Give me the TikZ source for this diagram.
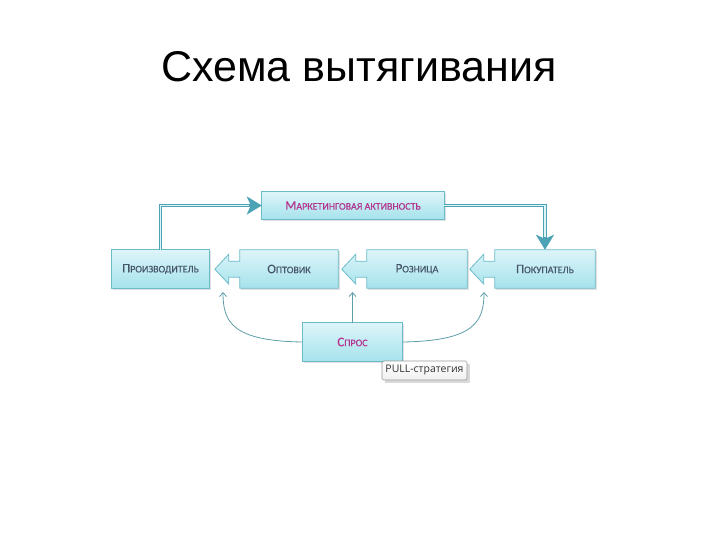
\documentclass[tikz,border=0pt]{standalone}
\usepackage{fontspec}
\setmainfont{Liberation Sans}
\newfontfamily\boxfont[FakeBold=0.45]{Carlito}
\newfontfamily\tipfont{Open Sans}
\usetikzlibrary{arrows.meta,backgrounds,calc}
\definecolor{bordc}{HTML}{6BBCCA}
\definecolor{topc}{HTML}{DDF5F9}
\definecolor{botc}{HTML}{A6E2EC}
\definecolor{txtc}{HTML}{46566A}
\definecolor{magc}{HTML}{B3338E}
\definecolor{arrc}{HTML}{4BA3B5}
\definecolor{thinc}{HTML}{5E9EA8}
\newcommand\smc[2]{{\fontsize{13}{14}\selectfont #1}{\fontsize{10}{12}\selectfont #2}}
\tikzset{
  boxshape/.style={draw=bordc, line width=0.8pt, top color=topc, bottom color=botc},
  boxshadow/.style={fill=black, opacity=0.12},
  boxtext/.style={font=\boxfont, text=txtc, inner sep=0pt},
  dbl/.style={draw=arrc, line width=3.6pt, -{Stealth[length=15pt,width=18pt,inset=4pt]}},
  dblin/.style={draw=topc, line width=1.4pt},
  thin/.style={draw=thinc, line width=0.8pt, -{Straight Barb[length=4pt,width=7pt]}},
}
% body rectangle + left-pointing arrow head, drawn behind the node
\newcommand\leftblock[1]{%
  \begin{scope}[on background layer]
    \path[boxshadow] ([shift={(1.5,1.5)}]#1.north west) rectangle ([shift={(1.5,1.5)}]#1.south east);
    \path[boxshape] (#1.north west) -- (#1.north east) -- (#1.south east) -- (#1.south west)
      -- ++(0,-11) -- ++(-11,0) -- ++(0,7) -- ++(-14,-15) -- ++(14,-15) -- ++(0,7) -- ++(11,0) -- cycle;
  \end{scope}}
\newcommand\plainblock[1]{%
  \begin{scope}[on background layer]
    \path[boxshadow] ([shift={(1.5,1.5)}]#1.north west) rectangle ([shift={(1.5,1.5)}]#1.south east);
    \path[boxshape] (#1.north west) rectangle (#1.south east);
  \end{scope}}
\begin{document}
\begin{tikzpicture}[x=1pt,y=-1pt]
\useasboundingbox (0,0) rectangle (720,540);

\node[font=\fontsize{43}{50}\selectfont, anchor=base] (title) at (359,82) {Схема вытягивания};

\node[boxtext, minimum width=97pt, minimum height=38pt] (prod) at (160.5,269) {\smc{П}{РОИЗВОДИТЕЛЬ}};
\node[boxtext, minimum width=98pt, minimum height=38pt] (opt) at (289,269) {\smc{О}{ПТОВИК}};
\node[boxtext, minimum width=100pt, minimum height=38pt] (roz) at (417,269) {\smc{Р}{ОЗНИЦА}};
\node[boxtext, minimum width=100pt, minimum height=38pt] (pok) at (545,269) {\smc{П}{ОКУПАТЕЛЬ}};
\node[boxtext, text=magc, minimum width=182pt, minimum height=27pt] (mark) at (353,205.5) {\smc{М}{АРКЕТИНГОВАЯ АКТИВНОСТЬ}};
\node[boxtext, text=magc, minimum width=99pt, minimum height=38pt] (spros) at (352.5,342) {\smc{С}{ПРОС}};

\plainblock{prod}
\leftblock{opt}
\leftblock{roz}
\leftblock{pok}
\plainblock{mark}
\plainblock{spros}

% marketing loop
\draw[dbl] (prod.north) |- (mark.west);
\draw[dblin, shorten >=13pt] (prod.north) |- (mark.west);
\draw[dbl] (mark.east) -| (pok.north);
\draw[dblin, shorten >=13pt] (mark.east) -| (pok.north);

% demand arrows
\coordinate (d1) at (223,292);
\coordinate (d2) at (352.5,292);
\coordinate (d3) at (484,292);
\draw[thin] (spros.west) .. controls (232,341) and (223,322) .. (d1);
\draw[thin] (spros.north) -- (d2);
\draw[thin] (spros.east) .. controls (474,341) and (484,322) .. (d3);

% tooltip
\fill[black, opacity=0.15] (384.5,363.5) rectangle (469.5,382.5);
\node[draw=gray!80, rounded corners=1.5pt, top color=white, bottom color=gray!12,
      line width=0.7pt, minimum width=85pt, minimum height=19pt, inner sep=0pt,
      font=\tipfont\fontsize{10.5}{12}\selectfont, text=black!80] (tip) at (424.5,370.5) {PULL-стратегия};
\end{tikzpicture}
\end{document}
